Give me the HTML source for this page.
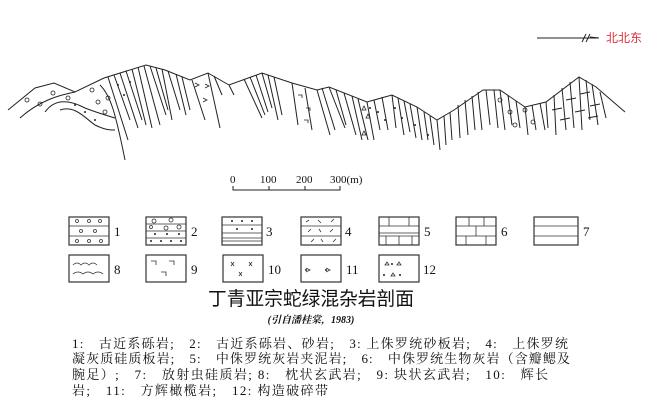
<!DOCTYPE html>
<html><head><meta charset="utf-8"><style>
body{margin:0;background:#fff;}
svg{display:block}
.t{font-family:"Liberation Serif","Noto Serif CJK SC",serif;fill:#111}
</style></head><body>
<svg width="660" height="402" viewBox="0 0 660 402" xmlns="http://www.w3.org/2000/svg">
<g stroke="#222" stroke-width="1" fill="none">
<line x1="537" y1="38" x2="598" y2="38"/>
<path d="M582 42 L586 34 M586 42 L590 34 M590 37 L599 38"/>
<polyline points="8,110 35,88 54,83 75,92 104,78 146,65 165,70 190,80 208,73 229,85 262,73 292,83 317,90 329,87 367,102 392,95 417,107 437,120 454,110 483,90 500,90 525,107 546,102 579,77 596,87 625,112"/>
<path d="M20,118 C40,100 60,95 75,92"/>
<path d="M45,112 C55,98 70,100 85,108 C95,112 105,115 115,118"/>
<path d="M60,110 C75,105 85,118 95,125 C105,130 110,130 115,130"/>
<path d="M100,85 C110,95 115,110 125,160"/>
<path d="M108,77 L128,140 M114,75 L130,120 M120,73 L138,128 M126,71 L142,120 M132,69 L146,125 M138,67 L152,128 M144,66 L160,125 M150,66 L166,115 M156,68 L168,110 M162,69 L172,120 M168,71 L180,110 M176,74 L186,115 M182,77 L190,110"/>
<path d="M192,80 L205,120 M208,73 L220,128 M214,76 L222,95"/>
<path d="M229,85 L234,95 M244,79 L262,118 M250,77 L265,115 M256,75 L268,112 M262,73 L272,108 M268,75 L278,120 M274,77 L282,115"/>
<path d="M292,83 L298,125 M305,88 L312,130 M317,90 L330,135 M322,88 L335,130 M329,87 L345,128 M336,90 L346,125 M344,93 L356,135 M352,96 L362,140 M358,99 L368,140 M367,102 L374,140 M374,100 L380,130 M382,97 L388,130 M392,95 L396,128 M398,98 L404,135 M404,101 L410,132 M410,104 L416,138 M417,107 L422,140 M424,112 L428,140 M430,116 L434,145 M437,120 L440,150 M444,116 L446,145 M450,112 L452,140"/>
<path d="M458,105 L460,138 M465,100 L468,135 M472,96 L475,130 M478,92 L482,130 M486,90 L490,125 M494,90 L498,128 M500,90 L505,130 M508,95 L512,125 M516,101 L520,128 M525,107 L528,135 M532,105 L536,130 M540,103 L545,130 M546,102 L548,128 M554,95 L556,135 M562,88 L566,130 M570,82 L574,128 M579,77 L582,130 M586,80 L590,120 M592,84 L598,125 M600,92 L606,118"/>
<path d="M552,110 L562,108 M566,100 L576,98 M580,94 L590,92 M560,120 L570,118 M575,112 L585,110 M590,106 L600,104 M588,118 L598,116"/>
<path d="M233,186 L233,190 L340,190 L340,186 M269,186 L269,190 M305,186 L305,190"/>
</g>
<g fill="none" stroke="#222" stroke-width="0.8">
<circle cx="27" cy="100" r="2"/><circle cx="40" cy="104" r="2"/><circle cx="53" cy="93" r="2"/><circle cx="68" cy="98" r="2"/><circle cx="92" cy="90" r="2"/><circle cx="98" cy="102" r="2"/><circle cx="108" cy="98" r="2"/><circle cx="105" cy="112" r="2"/>
<circle cx="500" cy="100" r="2"/><circle cx="510" cy="112" r="2"/><circle cx="525" cy="110" r="2"/><circle cx="515" cy="125" r="2"/><circle cx="533" cy="122" r="2"/>
<path d="M195,83 l4,2 -4,2 M205,84 l4,2 -4,2 M203,98 l4,2 -4,2 M298,95 h4 v3 M306,108 h4 v3 M304,120 h4 v3"/>
<path d="M362,110 l2,-4 2,4z M366,118 l2,-4 2,4z M362,135 l2,-4 2,4z"/>
</g>
<g fill="#222"><circle cx="75" cy="105" r="1"/><circle cx="85" cy="112" r="1"/><circle cx="95" cy="120" r="1"/><circle cx="118" cy="85" r="1"/><circle cx="124" cy="95" r="1"/><circle cx="130" cy="82" r="1"/><circle cx="370" cy="108" r="1"/><circle cx="378" cy="112" r="1"/><circle cx="385" cy="120" r="1"/><circle cx="395" cy="108" r="1"/><circle cx="402" cy="118" r="1"/><circle cx="415" cy="125" r="1"/><circle cx="428" cy="135" r="1"/></g>
<text x="606" y="42" font-family="Liberation Sans,'Noto Sans CJK SC',sans-serif" font-size="12" fill="#e0303a">北北东</text>
<g class="t" font-size="11">
<text x="230" y="183">0</text><text x="260" y="183">100</text><text x="296" y="183">200</text><text x="330" y="183">300(m)</text>
</g>
<g stroke="#333" stroke-width="1.2" fill="none">
<rect x="69" y="217" width="40" height="28"/><rect x="146" y="217" width="40" height="28"/><rect x="222" y="217" width="40" height="28"/><rect x="301" y="217" width="40" height="28"/><rect x="379" y="217" width="40" height="28"/><rect x="456" y="217" width="40" height="28"/><rect x="534" y="217" width="44" height="28"/>
<rect x="69" y="255" width="40" height="27"/><rect x="146" y="255" width="40" height="27"/><rect x="223" y="255" width="40" height="27"/><rect x="301" y="255" width="40" height="27"/><rect x="379" y="255" width="40" height="27"/>
</g>
<g stroke="#333" stroke-width="0.8" fill="none">
<path d="M69,226 h40 M69,236 h40 M146,224 h40 M146,231 h40 M146,238 h40 M222,225 h40 M222,233 h40 M222,238 h40 M222,241 h40 M301,226 h40 M301,236 h40 M379,226 h40 M379,233 h40 M379,236 h40 M389,217 v9 M409,217 v9 M386,236 v9 M399,236 v9 M412,236 v9 M456,226 h40 M456,236 h40 M469,217 v9 M484,217 v9 M476,226 v10 M466,236 v9 M486,236 v9 M534,226 h44 M534,236 h44"/>
<circle cx="77" cy="221" r="1.5"/><circle cx="89" cy="221" r="1.5"/><circle cx="100" cy="221" r="1.5"/><circle cx="81" cy="231" r="1.5"/><circle cx="95" cy="231" r="1.5"/><circle cx="77" cy="241" r="1.5"/><circle cx="89" cy="241" r="1.5"/><circle cx="101" cy="241" r="1.5"/>
<circle cx="154" cy="221" r="2"/><circle cx="171" cy="220" r="2"/><circle cx="151" cy="227" r="1.5"/><circle cx="166" cy="228" r="2"/><circle cx="179" cy="227" r="2"/>
<path d="M306,222 l3,-2 M318,220 l3,3 M331,222 l3,-3 M308,232 l3,-3 M319,229 l2,3 M330,232 l3,-3 M311,242 l3,-3 M321,239 l2,3 M333,242 l3,-3"/>
<path d="M73,265 q4,-4 8,0 q4,-4 8,0 q4,-4 8,0 M73,274 q5,-4 10,0 q5,-4 10,0 q5,-4 10,0"/>
<path d="M151,261 h5 v4 M169,261 h5 v4 M161,272 h5 v4"/>
<path d="M231,262 l3,4 M234,262 l-3,4 M249,262 l3,4 M252,262 l-3,4 M239,272 l3,4 M242,272 l-3,4"/>
<path d="M306,268 l4,2 -4,2 M326,268 l4,2 -4,2"/>
<path d="M385,265 l2,-3 2,3z M397,265 l2,-3 2,3z M391,276 l2,-3 2,3z"/>
</g>
<g fill="#222"><circle cx="155" cy="234" r="1"/><circle cx="167" cy="234" r="1"/><circle cx="179" cy="234" r="1"/><circle cx="151" cy="241" r="1"/><circle cx="161" cy="241" r="1"/><circle cx="171" cy="241" r="1"/><circle cx="181" cy="241" r="1"/><circle cx="232" cy="221" r="1"/><circle cx="242" cy="221" r="1"/><circle cx="252" cy="221" r="1"/><circle cx="237" cy="229" r="1"/><circle cx="252" cy="229" r="1"/><circle cx="306" cy="270" r="1"/><circle cx="326" cy="270" r="1"/><circle cx="392" cy="264" r="1"/><circle cx="384" cy="275" r="1"/><circle cx="400" cy="275" r="1"/></g>
<g class="t" font-size="13">
<text x="114" y="236">1</text><text x="191" y="236">2</text><text x="266" y="236">3</text><text x="345" y="236">4</text><text x="424" y="236">5</text><text x="501" y="236">6</text><text x="583" y="236">7</text>
<text x="114" y="274">8</text><text x="191" y="274">9</text><text x="268" y="274">10</text><text x="346" y="274">11</text><text x="423" y="274">12</text>
</g>
<text x="311" y="305" text-anchor="middle" font-family="Liberation Sans,'Noto Sans CJK SC',sans-serif" font-size="19" fill="#111" textLength="206" lengthAdjust="spacingAndGlyphs">丁青亚宗蛇绿混杂岩剖面</text>
<text x="311" y="323" text-anchor="middle" class="t" font-size="10" font-style="italic" font-weight="bold">(引自潘桂棠，1983)</text>
<g class="t" font-size="13" fill="#222">
<text x="72" y="348" textLength="496" lengthAdjust="spacing">1:　古近系砾岩;　2:　古近系砾岩、砂岩;　3: 上侏罗统砂板岩;　4:　上侏罗统</text>
<text x="72" y="363" textLength="498" lengthAdjust="spacing">凝灰质硅质板岩;　5:　中侏罗统灰岩夹泥岩;　6:　中侏罗统生物灰岩（含瓣鳃及</text>
<text x="72" y="379" textLength="476" lengthAdjust="spacing">腕足）;　7:　放射虫硅质岩; 8:　枕状玄武岩;　9: 块状玄武岩;　10:　辉长</text>
<text x="72" y="395" textLength="256" lengthAdjust="spacing">岩;　11:　方辉橄榄岩;　12: 构造破碎带</text>
</g>
</svg>
</body></html>
